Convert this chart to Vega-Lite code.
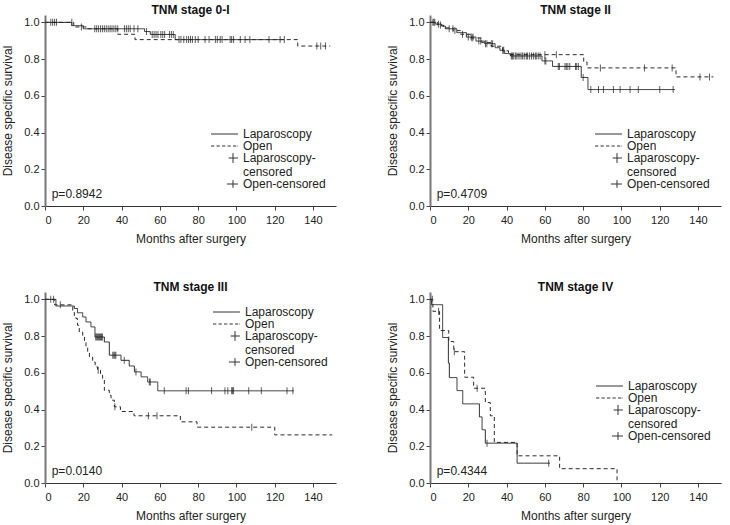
{
  "$schema": "https://vega.github.io/schema/vega-lite/v6.json",
  "background": "white",
  "padding": {"left": 1, "top": 4, "right": 2, "bottom": 2},
  "datasets": {
    "km": [
      {"stage": "0-I", "group": "Laparoscopy", "t": 0, "s": 1},
      {"stage": "0-I", "group": "Laparoscopy", "t": 14, "s": 0.982},
      {"stage": "0-I", "group": "Laparoscopy", "t": 20, "s": 0.965},
      {"stage": "0-I", "group": "Laparoscopy", "t": 52, "s": 0.95},
      {"stage": "0-I", "group": "Laparoscopy", "t": 55, "s": 0.934},
      {"stage": "0-I", "group": "Laparoscopy", "t": 68, "s": 0.906},
      {"stage": "0-I", "group": "Laparoscopy", "t": 125, "s": 0.906},
      {"stage": "0-I", "group": "Open", "t": 0, "s": 1},
      {"stage": "0-I", "group": "Open", "t": 15, "s": 0.975},
      {"stage": "0-I", "group": "Open", "t": 22, "s": 0.965},
      {"stage": "0-I", "group": "Open", "t": 38, "s": 0.935},
      {"stage": "0-I", "group": "Open", "t": 47, "s": 0.906},
      {"stage": "0-I", "group": "Open", "t": 132, "s": 0.871},
      {"stage": "0-I", "group": "Open", "t": 149, "s": 0.871},

      {"stage": "II", "group": "Laparoscopy", "t": 0, "s": 1},
      {"stage": "II", "group": "Laparoscopy", "t": 3, "s": 0.99},
      {"stage": "II", "group": "Laparoscopy", "t": 6, "s": 0.98},
      {"stage": "II", "group": "Laparoscopy", "t": 8, "s": 0.965},
      {"stage": "II", "group": "Laparoscopy", "t": 14, "s": 0.944},
      {"stage": "II", "group": "Laparoscopy", "t": 19, "s": 0.92},
      {"stage": "II", "group": "Laparoscopy", "t": 24, "s": 0.898},
      {"stage": "II", "group": "Laparoscopy", "t": 28.5, "s": 0.884},
      {"stage": "II", "group": "Laparoscopy", "t": 34, "s": 0.862},
      {"stage": "II", "group": "Laparoscopy", "t": 36.5, "s": 0.848},
      {"stage": "II", "group": "Laparoscopy", "t": 39, "s": 0.83},
      {"stage": "II", "group": "Laparoscopy", "t": 42, "s": 0.817},
      {"stage": "II", "group": "Laparoscopy", "t": 58.5, "s": 0.79},
      {"stage": "II", "group": "Laparoscopy", "t": 64, "s": 0.76},
      {"stage": "II", "group": "Laparoscopy", "t": 79, "s": 0.7},
      {"stage": "II", "group": "Laparoscopy", "t": 82.5, "s": 0.634},
      {"stage": "II", "group": "Laparoscopy", "t": 128, "s": 0.634},
      {"stage": "II", "group": "Open", "t": 0, "s": 1},
      {"stage": "II", "group": "Open", "t": 4, "s": 0.985},
      {"stage": "II", "group": "Open", "t": 7, "s": 0.97},
      {"stage": "II", "group": "Open", "t": 12, "s": 0.955},
      {"stage": "II", "group": "Open", "t": 16, "s": 0.935},
      {"stage": "II", "group": "Open", "t": 21, "s": 0.915},
      {"stage": "II", "group": "Open", "t": 27, "s": 0.89},
      {"stage": "II", "group": "Open", "t": 32, "s": 0.87},
      {"stage": "II", "group": "Open", "t": 38, "s": 0.845},
      {"stage": "II", "group": "Open", "t": 41, "s": 0.824},
      {"stage": "II", "group": "Open", "t": 80.3, "s": 0.784},
      {"stage": "II", "group": "Open", "t": 82, "s": 0.752},
      {"stage": "II", "group": "Open", "t": 128.5, "s": 0.703},
      {"stage": "II", "group": "Open", "t": 148, "s": 0.703},

      {"stage": "III", "group": "Laparoscopy", "t": 0, "s": 1},
      {"stage": "III", "group": "Laparoscopy", "t": 5.7, "s": 0.964},
      {"stage": "III", "group": "Laparoscopy", "t": 15.3, "s": 0.95},
      {"stage": "III", "group": "Laparoscopy", "t": 17, "s": 0.927},
      {"stage": "III", "group": "Laparoscopy", "t": 19.7, "s": 0.904},
      {"stage": "III", "group": "Laparoscopy", "t": 21.4, "s": 0.877},
      {"stage": "III", "group": "Laparoscopy", "t": 24, "s": 0.85},
      {"stage": "III", "group": "Laparoscopy", "t": 26.1, "s": 0.795},
      {"stage": "III", "group": "Laparoscopy", "t": 31, "s": 0.768},
      {"stage": "III", "group": "Laparoscopy", "t": 33.6, "s": 0.696},
      {"stage": "III", "group": "Laparoscopy", "t": 39.7, "s": 0.668},
      {"stage": "III", "group": "Laparoscopy", "t": 44, "s": 0.637},
      {"stage": "III", "group": "Laparoscopy", "t": 46.7, "s": 0.605},
      {"stage": "III", "group": "Laparoscopy", "t": 50.2, "s": 0.578},
      {"stage": "III", "group": "Laparoscopy", "t": 53.6, "s": 0.55},
      {"stage": "III", "group": "Laparoscopy", "t": 58.9, "s": 0.502},
      {"stage": "III", "group": "Laparoscopy", "t": 130, "s": 0.502},
      {"stage": "III", "group": "Open", "t": 0, "s": 1},
      {"stage": "III", "group": "Open", "t": 5, "s": 0.97},
      {"stage": "III", "group": "Open", "t": 14.5, "s": 0.94},
      {"stage": "III", "group": "Open", "t": 15.3, "s": 0.913},
      {"stage": "III", "group": "Open", "t": 16.2, "s": 0.895},
      {"stage": "III", "group": "Open", "t": 17, "s": 0.859},
      {"stage": "III", "group": "Open", "t": 17.9, "s": 0.822},
      {"stage": "III", "group": "Open", "t": 19.7, "s": 0.795},
      {"stage": "III", "group": "Open", "t": 20.6, "s": 0.768},
      {"stage": "III", "group": "Open", "t": 21.4, "s": 0.741},
      {"stage": "III", "group": "Open", "t": 22.3, "s": 0.714},
      {"stage": "III", "group": "Open", "t": 23.2, "s": 0.686},
      {"stage": "III", "group": "Open", "t": 24.9, "s": 0.659},
      {"stage": "III", "group": "Open", "t": 26.2, "s": 0.632},
      {"stage": "III", "group": "Open", "t": 27.5, "s": 0.614},
      {"stage": "III", "group": "Open", "t": 29, "s": 0.587},
      {"stage": "III", "group": "Open", "t": 30.1, "s": 0.569},
      {"stage": "III", "group": "Open", "t": 31, "s": 0.505},
      {"stage": "III", "group": "Open", "t": 33.6, "s": 0.478},
      {"stage": "III", "group": "Open", "t": 34.5, "s": 0.451},
      {"stage": "III", "group": "Open", "t": 36.2, "s": 0.415},
      {"stage": "III", "group": "Open", "t": 39.4, "s": 0.389},
      {"stage": "III", "group": "Open", "t": 46.5, "s": 0.366},
      {"stage": "III", "group": "Open", "t": 70.7, "s": 0.333},
      {"stage": "III", "group": "Open", "t": 79.4, "s": 0.304},
      {"stage": "III", "group": "Open", "t": 120, "s": 0.262},
      {"stage": "III", "group": "Open", "t": 150, "s": 0.262},

      {"stage": "IV", "group": "Laparoscopy", "t": 0, "s": 1},
      {"stage": "IV", "group": "Laparoscopy", "t": 0.8, "s": 0.971},
      {"stage": "IV", "group": "Laparoscopy", "t": 6.6, "s": 0.792},
      {"stage": "IV", "group": "Laparoscopy", "t": 9.6, "s": 0.653},
      {"stage": "IV", "group": "Laparoscopy", "t": 10.1, "s": 0.574},
      {"stage": "IV", "group": "Laparoscopy", "t": 14.1, "s": 0.503},
      {"stage": "IV", "group": "Laparoscopy", "t": 17.1, "s": 0.431},
      {"stage": "IV", "group": "Laparoscopy", "t": 25.8, "s": 0.36},
      {"stage": "IV", "group": "Laparoscopy", "t": 27.2, "s": 0.29},
      {"stage": "IV", "group": "Laparoscopy", "t": 28.9, "s": 0.217},
      {"stage": "IV", "group": "Laparoscopy", "t": 45.5, "s": 0.108},
      {"stage": "IV", "group": "Laparoscopy", "t": 62.7, "s": 0.108},
      {"stage": "IV", "group": "Open", "t": 0, "s": 1},
      {"stage": "IV", "group": "Open", "t": 1.5, "s": 0.935},
      {"stage": "IV", "group": "Open", "t": 5, "s": 0.83},
      {"stage": "IV", "group": "Open", "t": 9.8, "s": 0.77},
      {"stage": "IV", "group": "Open", "t": 12.4, "s": 0.715},
      {"stage": "IV", "group": "Open", "t": 18.1, "s": 0.576},
      {"stage": "IV", "group": "Open", "t": 22.8, "s": 0.516},
      {"stage": "IV", "group": "Open", "t": 28.9, "s": 0.438},
      {"stage": "IV", "group": "Open", "t": 31.5, "s": 0.366},
      {"stage": "IV", "group": "Open", "t": 33.6, "s": 0.221},
      {"stage": "IV", "group": "Open", "t": 45.5, "s": 0.148},
      {"stage": "IV", "group": "Open", "t": 67.7, "s": 0.078},
      {"stage": "IV", "group": "Open", "t": 97.7, "s": 0}
    ],
    "cens": [
      {"stage": "0-I", "group": "Laparoscopy", "t": 3, "s": 1},
      {"stage": "0-I", "group": "Laparoscopy", "t": 4, "s": 1},
      {"stage": "0-I", "group": "Laparoscopy", "t": 5, "s": 1},
      {"stage": "0-I", "group": "Laparoscopy", "t": 6, "s": 1},
      {"stage": "0-I", "group": "Laparoscopy", "t": 26, "s": 0.965},
      {"stage": "0-I", "group": "Laparoscopy", "t": 27, "s": 0.965},
      {"stage": "0-I", "group": "Laparoscopy", "t": 28, "s": 0.965},
      {"stage": "0-I", "group": "Laparoscopy", "t": 29, "s": 0.965},
      {"stage": "0-I", "group": "Laparoscopy", "t": 30, "s": 0.965},
      {"stage": "0-I", "group": "Laparoscopy", "t": 31, "s": 0.965},
      {"stage": "0-I", "group": "Laparoscopy", "t": 32, "s": 0.965},
      {"stage": "0-I", "group": "Laparoscopy", "t": 33, "s": 0.965},
      {"stage": "0-I", "group": "Laparoscopy", "t": 34, "s": 0.965},
      {"stage": "0-I", "group": "Laparoscopy", "t": 35, "s": 0.965},
      {"stage": "0-I", "group": "Laparoscopy", "t": 36, "s": 0.965},
      {"stage": "0-I", "group": "Laparoscopy", "t": 37, "s": 0.965},
      {"stage": "0-I", "group": "Laparoscopy", "t": 38, "s": 0.965},
      {"stage": "0-I", "group": "Laparoscopy", "t": 41.5, "s": 0.965},
      {"stage": "0-I", "group": "Laparoscopy", "t": 42.5, "s": 0.965},
      {"stage": "0-I", "group": "Laparoscopy", "t": 43.5, "s": 0.965},
      {"stage": "0-I", "group": "Laparoscopy", "t": 44.5, "s": 0.965},
      {"stage": "0-I", "group": "Laparoscopy", "t": 46.5, "s": 0.965},
      {"stage": "0-I", "group": "Laparoscopy", "t": 48.5, "s": 0.965},
      {"stage": "0-I", "group": "Laparoscopy", "t": 53, "s": 0.95},
      {"stage": "0-I", "group": "Laparoscopy", "t": 56, "s": 0.934},
      {"stage": "0-I", "group": "Laparoscopy", "t": 57, "s": 0.934},
      {"stage": "0-I", "group": "Laparoscopy", "t": 58, "s": 0.934},
      {"stage": "0-I", "group": "Laparoscopy", "t": 59, "s": 0.934},
      {"stage": "0-I", "group": "Laparoscopy", "t": 60.5, "s": 0.934},
      {"stage": "0-I", "group": "Laparoscopy", "t": 61.5, "s": 0.934},
      {"stage": "0-I", "group": "Laparoscopy", "t": 62.5, "s": 0.934},
      {"stage": "0-I", "group": "Laparoscopy", "t": 65, "s": 0.934},
      {"stage": "0-I", "group": "Laparoscopy", "t": 66, "s": 0.934},
      {"stage": "0-I", "group": "Laparoscopy", "t": 67, "s": 0.934},
      {"stage": "0-I", "group": "Laparoscopy", "t": 70, "s": 0.906},
      {"stage": "0-I", "group": "Laparoscopy", "t": 71, "s": 0.906},
      {"stage": "0-I", "group": "Laparoscopy", "t": 72.5, "s": 0.906},
      {"stage": "0-I", "group": "Laparoscopy", "t": 74, "s": 0.906},
      {"stage": "0-I", "group": "Laparoscopy", "t": 75, "s": 0.906},
      {"stage": "0-I", "group": "Laparoscopy", "t": 76, "s": 0.906},
      {"stage": "0-I", "group": "Laparoscopy", "t": 77, "s": 0.906},
      {"stage": "0-I", "group": "Laparoscopy", "t": 78.5, "s": 0.906},
      {"stage": "0-I", "group": "Laparoscopy", "t": 80, "s": 0.906},
      {"stage": "0-I", "group": "Laparoscopy", "t": 83.6, "s": 0.906},
      {"stage": "0-I", "group": "Laparoscopy", "t": 85.7, "s": 0.906},
      {"stage": "0-I", "group": "Laparoscopy", "t": 89, "s": 0.906},
      {"stage": "0-I", "group": "Laparoscopy", "t": 90, "s": 0.906},
      {"stage": "0-I", "group": "Laparoscopy", "t": 91.5, "s": 0.906},
      {"stage": "0-I", "group": "Laparoscopy", "t": 92.5, "s": 0.906},
      {"stage": "0-I", "group": "Laparoscopy", "t": 96.7, "s": 0.906},
      {"stage": "0-I", "group": "Laparoscopy", "t": 97.5, "s": 0.906},
      {"stage": "0-I", "group": "Laparoscopy", "t": 98.5, "s": 0.906},
      {"stage": "0-I", "group": "Laparoscopy", "t": 102, "s": 0.906},
      {"stage": "0-I", "group": "Laparoscopy", "t": 104.5, "s": 0.906},
      {"stage": "0-I", "group": "Laparoscopy", "t": 107, "s": 0.906},
      {"stage": "0-I", "group": "Laparoscopy", "t": 117, "s": 0.906},
      {"stage": "0-I", "group": "Laparoscopy", "t": 122.8, "s": 0.906},
      {"stage": "0-I", "group": "Laparoscopy", "t": 125, "s": 0.906},
      {"stage": "0-I", "group": "Open", "t": 14, "s": 1},
      {"stage": "0-I", "group": "Open", "t": 19, "s": 0.975},
      {"stage": "0-I", "group": "Open", "t": 142, "s": 0.871},
      {"stage": "0-I", "group": "Open", "t": 144, "s": 0.871},
      {"stage": "0-I", "group": "Open", "t": 146.5, "s": 0.871},

      {"stage": "II", "group": "Laparoscopy", "t": 1.5, "s": 1},
      {"stage": "II", "group": "Laparoscopy", "t": 2.5, "s": 1},
      {"stage": "II", "group": "Laparoscopy", "t": 4.5, "s": 0.99},
      {"stage": "II", "group": "Laparoscopy", "t": 10, "s": 0.965},
      {"stage": "II", "group": "Laparoscopy", "t": 12, "s": 0.965},
      {"stage": "II", "group": "Laparoscopy", "t": 20, "s": 0.92},
      {"stage": "II", "group": "Laparoscopy", "t": 21.5, "s": 0.92},
      {"stage": "II", "group": "Laparoscopy", "t": 22.5, "s": 0.92},
      {"stage": "II", "group": "Laparoscopy", "t": 25.5, "s": 0.898},
      {"stage": "II", "group": "Laparoscopy", "t": 26.5, "s": 0.898},
      {"stage": "II", "group": "Laparoscopy", "t": 29, "s": 0.884},
      {"stage": "II", "group": "Laparoscopy", "t": 29.7, "s": 0.884},
      {"stage": "II", "group": "Laparoscopy", "t": 32, "s": 0.884},
      {"stage": "II", "group": "Laparoscopy", "t": 32.7, "s": 0.884},
      {"stage": "II", "group": "Laparoscopy", "t": 38, "s": 0.848},
      {"stage": "II", "group": "Laparoscopy", "t": 38.5, "s": 0.848},
      {"stage": "II", "group": "Laparoscopy", "t": 42.5, "s": 0.817},
      {"stage": "II", "group": "Laparoscopy", "t": 43, "s": 0.817},
      {"stage": "II", "group": "Laparoscopy", "t": 43.5, "s": 0.817},
      {"stage": "II", "group": "Laparoscopy", "t": 44.5, "s": 0.817},
      {"stage": "II", "group": "Laparoscopy", "t": 45, "s": 0.817},
      {"stage": "II", "group": "Laparoscopy", "t": 46, "s": 0.817},
      {"stage": "II", "group": "Laparoscopy", "t": 47, "s": 0.817},
      {"stage": "II", "group": "Laparoscopy", "t": 48, "s": 0.817},
      {"stage": "II", "group": "Laparoscopy", "t": 48.5, "s": 0.817},
      {"stage": "II", "group": "Laparoscopy", "t": 49.5, "s": 0.817},
      {"stage": "II", "group": "Laparoscopy", "t": 50.5, "s": 0.817},
      {"stage": "II", "group": "Laparoscopy", "t": 51, "s": 0.817},
      {"stage": "II", "group": "Laparoscopy", "t": 52, "s": 0.817},
      {"stage": "II", "group": "Laparoscopy", "t": 53, "s": 0.817},
      {"stage": "II", "group": "Laparoscopy", "t": 54, "s": 0.817},
      {"stage": "II", "group": "Laparoscopy", "t": 55, "s": 0.817},
      {"stage": "II", "group": "Laparoscopy", "t": 55.5, "s": 0.817},
      {"stage": "II", "group": "Laparoscopy", "t": 56.5, "s": 0.817},
      {"stage": "II", "group": "Laparoscopy", "t": 57.5, "s": 0.817},
      {"stage": "II", "group": "Laparoscopy", "t": 60, "s": 0.79},
      {"stage": "II", "group": "Laparoscopy", "t": 60.5, "s": 0.79},
      {"stage": "II", "group": "Laparoscopy", "t": 67, "s": 0.76},
      {"stage": "II", "group": "Laparoscopy", "t": 67.6, "s": 0.76},
      {"stage": "II", "group": "Laparoscopy", "t": 70.5, "s": 0.76},
      {"stage": "II", "group": "Laparoscopy", "t": 71.2, "s": 0.76},
      {"stage": "II", "group": "Laparoscopy", "t": 72, "s": 0.76},
      {"stage": "II", "group": "Laparoscopy", "t": 73, "s": 0.76},
      {"stage": "II", "group": "Laparoscopy", "t": 76, "s": 0.76},
      {"stage": "II", "group": "Laparoscopy", "t": 76.6, "s": 0.76},
      {"stage": "II", "group": "Laparoscopy", "t": 77.5, "s": 0.76},
      {"stage": "II", "group": "Laparoscopy", "t": 80, "s": 0.7},
      {"stage": "II", "group": "Laparoscopy", "t": 84, "s": 0.634},
      {"stage": "II", "group": "Laparoscopy", "t": 88, "s": 0.634},
      {"stage": "II", "group": "Laparoscopy", "t": 90.6, "s": 0.634},
      {"stage": "II", "group": "Laparoscopy", "t": 95.8, "s": 0.634},
      {"stage": "II", "group": "Laparoscopy", "t": 99.3, "s": 0.634},
      {"stage": "II", "group": "Laparoscopy", "t": 104.5, "s": 0.634},
      {"stage": "II", "group": "Laparoscopy", "t": 108.8, "s": 0.634},
      {"stage": "II", "group": "Laparoscopy", "t": 120, "s": 0.634},
      {"stage": "II", "group": "Laparoscopy", "t": 127, "s": 0.634},
      {"stage": "II", "group": "Open", "t": 2, "s": 1},
      {"stage": "II", "group": "Open", "t": 5.5, "s": 0.985},
      {"stage": "II", "group": "Open", "t": 13, "s": 0.955},
      {"stage": "II", "group": "Open", "t": 17, "s": 0.935},
      {"stage": "II", "group": "Open", "t": 22, "s": 0.915},
      {"stage": "II", "group": "Open", "t": 60, "s": 0.824},
      {"stage": "II", "group": "Open", "t": 66, "s": 0.824},
      {"stage": "II", "group": "Open", "t": 89, "s": 0.752},
      {"stage": "II", "group": "Open", "t": 112, "s": 0.752},
      {"stage": "II", "group": "Open", "t": 126.5, "s": 0.752},
      {"stage": "II", "group": "Open", "t": 141, "s": 0.703},
      {"stage": "II", "group": "Open", "t": 146, "s": 0.703},

      {"stage": "III", "group": "Laparoscopy", "t": 3, "s": 1},
      {"stage": "III", "group": "Laparoscopy", "t": 4.5, "s": 1},
      {"stage": "III", "group": "Laparoscopy", "t": 26.5, "s": 0.795},
      {"stage": "III", "group": "Laparoscopy", "t": 27, "s": 0.795},
      {"stage": "III", "group": "Laparoscopy", "t": 27.5, "s": 0.795},
      {"stage": "III", "group": "Laparoscopy", "t": 28, "s": 0.795},
      {"stage": "III", "group": "Laparoscopy", "t": 28.5, "s": 0.795},
      {"stage": "III", "group": "Laparoscopy", "t": 29, "s": 0.795},
      {"stage": "III", "group": "Laparoscopy", "t": 29.5, "s": 0.795},
      {"stage": "III", "group": "Laparoscopy", "t": 30, "s": 0.795},
      {"stage": "III", "group": "Laparoscopy", "t": 35.4, "s": 0.696},
      {"stage": "III", "group": "Laparoscopy", "t": 36, "s": 0.696},
      {"stage": "III", "group": "Laparoscopy", "t": 36.5, "s": 0.696},
      {"stage": "III", "group": "Laparoscopy", "t": 37, "s": 0.696},
      {"stage": "III", "group": "Laparoscopy", "t": 41.4, "s": 0.668},
      {"stage": "III", "group": "Laparoscopy", "t": 47.5, "s": 0.605},
      {"stage": "III", "group": "Laparoscopy", "t": 54.5, "s": 0.55},
      {"stage": "III", "group": "Laparoscopy", "t": 55, "s": 0.55},
      {"stage": "III", "group": "Laparoscopy", "t": 62.3, "s": 0.502},
      {"stage": "III", "group": "Laparoscopy", "t": 73.7, "s": 0.502},
      {"stage": "III", "group": "Laparoscopy", "t": 74.9, "s": 0.502},
      {"stage": "III", "group": "Laparoscopy", "t": 87, "s": 0.502},
      {"stage": "III", "group": "Laparoscopy", "t": 94, "s": 0.502},
      {"stage": "III", "group": "Laparoscopy", "t": 95.5, "s": 0.502},
      {"stage": "III", "group": "Laparoscopy", "t": 97.5, "s": 0.502},
      {"stage": "III", "group": "Laparoscopy", "t": 98, "s": 0.502},
      {"stage": "III", "group": "Laparoscopy", "t": 98.5, "s": 0.502},
      {"stage": "III", "group": "Laparoscopy", "t": 106.4, "s": 0.502},
      {"stage": "III", "group": "Laparoscopy", "t": 113, "s": 0.502},
      {"stage": "III", "group": "Laparoscopy", "t": 126.4, "s": 0.502},
      {"stage": "III", "group": "Laparoscopy", "t": 129.5, "s": 0.502},
      {"stage": "III", "group": "Open", "t": 8, "s": 0.97},
      {"stage": "III", "group": "Open", "t": 27.8, "s": 0.614},
      {"stage": "III", "group": "Open", "t": 36.5, "s": 0.415},
      {"stage": "III", "group": "Open", "t": 54, "s": 0.366},
      {"stage": "III", "group": "Open", "t": 58.5, "s": 0.366},
      {"stage": "III", "group": "Open", "t": 108, "s": 0.304},

      {"stage": "IV", "group": "Laparoscopy", "t": 29.8, "s": 0.217},
      {"stage": "IV", "group": "Laparoscopy", "t": 62, "s": 0.108},
      {"stage": "IV", "group": "Open", "t": 1.2, "s": 1},
      {"stage": "IV", "group": "Open", "t": 4.5, "s": 0.935},
      {"stage": "IV", "group": "Open", "t": 12.7, "s": 0.715},
      {"stage": "IV", "group": "Open", "t": 24.6, "s": 0.516}
    ]
  },
  "columns": 2,
  "spacing": {"row": 37, "column": 50},
  "resolve": {"scale": {"shape": "independent"}, "legend": {"shape": "independent"}},
  "concat": [
    {
      "width": 291, "height": 191,
      "title": "TNM stage 0-I",
      "layer": [
        {
          "data": {"name": "km"},
          "transform": [{"filter": "datum.stage == '0-I'"}],
          "mark": {"type": "line", "interpolate": "step-after", "color": "#2a2a2a", "strokeWidth": 1},
          "encoding": {
            "x": {"field": "t", "type": "quantitative", "scale": {"domain": [0, 152], "nice": false}, "axis": {"values": [0, 20, 40, 60, 80, 100, 120, 140], "title": "Months after surgery", "labelOverlap": false}},
            "y": {"field": "s", "type": "quantitative", "scale": {"domain": [0, 1.04], "nice": false}, "axis": {"values": [0, 0.2, 0.4, 0.6, 0.8, 1], "format": ".1f", "title": "Disease specific survival", "labelOverlap": false}},
            "strokeDash": {"field": "group", "type": "nominal", "scale": {"domain": ["Laparoscopy", "Open"], "range": [[1, 0], [4, 3]]}, "legend": null}
          }
        },
        {
          "data": {"name": "cens"},
          "transform": [{"filter": "datum.stage == '0-I'"}],
          "mark": {"type": "tick", "orient": "vertical", "color": "#1a1a1a", "size": 7, "thickness": 1},
          "encoding": {
            "x": {"field": "t", "type": "quantitative", "scale": {"domain": [0, 152], "nice": false}, "axis": {"values": [0, 20, 40, 60, 80, 100, 120, 140], "title": "Months after surgery", "labelOverlap": false}},
            "y": {"field": "s", "type": "quantitative", "scale": {"domain": [0, 1.04], "nice": false}, "axis": {"values": [0, 0.2, 0.4, 0.6, 0.8, 1], "format": ".1f", "title": "Disease specific survival", "labelOverlap": false}}
          }
        },
        {
          "data": {"name": "km"},
          "transform": [{"filter": "datum.stage == '0-I'"}],
          "mark": {"type": "point", "filled": false, "color": "#333", "opacity": 0},
          "encoding": {
            "x": {"field": "t", "type": "quantitative", "scale": {"domain": [0, 152], "nice": false}, "axis": {"values": [0, 20, 40, 60, 80, 100, 120, 140], "title": "Months after surgery", "labelOverlap": false}},
            "y": {"field": "s", "type": "quantitative", "scale": {"domain": [0, 1.04], "nice": false}, "axis": {"values": [0, 0.2, 0.4, 0.6, 0.8, 1], "format": ".1f", "title": "Disease specific survival", "labelOverlap": false}},
            "shape": {"field": "group", "type": "nominal",
              "scale": {"domain": ["Laparoscopy", "Open", "Laparoscopy-censored", "Open-censored"],
                        "range": ["M-4,0L0.9,0", "M-4,0L-3.4,0M-3,0L-2.4,0M-2,0L-1.4,0M-1,0L-0.4,0M0,0L0.6,0M0.8,0L0.9,0", "M-0.8,0L0.9,0M0,-0.9L0,0.9", "M-1.1,0L0.9,0M0,-0.7L0,0.7"]},
              "legend": {"title": null, "orient": "none", "legendX": 182, "legendY": 113,
                         "labelExpr": "datum.label == 'Laparoscopy-censored' ? ['Laparoscopy-', 'censored'] : datum.label"}}
          }
        },
        {
          "data": {"values": [{"p": "p=0.8942"}]},
          "mark": {"type": "text", "align": "left", "baseline": "middle", "fontSize": 12, "color": "#222"},
          "encoding": {
            "x": {"datum": 3.5, "type": "quantitative", "scale": {"domain": [0, 152], "nice": false}, "axis": {"values": [0, 20, 40, 60, 80, 100, 120, 140], "title": "Months after surgery", "labelOverlap": false}},
            "y": {"datum": 0.066, "type": "quantitative", "scale": {"domain": [0, 1.04], "nice": false}, "axis": {"values": [0, 0.2, 0.4, 0.6, 0.8, 1], "format": ".1f", "title": "Disease specific survival", "labelOverlap": false}},
            "text": {"field": "p"}
          }
        }
      ]
    },
    {
      "width": 291, "height": 191,
      "title": "TNM stage II",
      "layer": [
        {
          "data": {"name": "km"},
          "transform": [{"filter": "datum.stage == 'II'"}],
          "mark": {"type": "line", "interpolate": "step-after", "color": "#2a2a2a", "strokeWidth": 1},
          "encoding": {
            "x": {"field": "t", "type": "quantitative", "scale": {"domain": [0, 152], "nice": false}, "axis": {"values": [0, 20, 40, 60, 80, 100, 120, 140], "title": "Months after surgery", "labelOverlap": false}},
            "y": {"field": "s", "type": "quantitative", "scale": {"domain": [0, 1.04], "nice": false}, "axis": {"values": [0, 0.2, 0.4, 0.6, 0.8, 1], "format": ".1f", "title": "Disease specific survival", "labelOverlap": false}},
            "strokeDash": {"field": "group", "type": "nominal", "scale": {"domain": ["Laparoscopy", "Open"], "range": [[1, 0], [4, 3]]}, "legend": null}
          }
        },
        {
          "data": {"name": "cens"},
          "transform": [{"filter": "datum.stage == 'II'"}],
          "mark": {"type": "tick", "orient": "vertical", "color": "#1a1a1a", "size": 7, "thickness": 1},
          "encoding": {
            "x": {"field": "t", "type": "quantitative", "scale": {"domain": [0, 152], "nice": false}, "axis": {"values": [0, 20, 40, 60, 80, 100, 120, 140], "title": "Months after surgery", "labelOverlap": false}},
            "y": {"field": "s", "type": "quantitative", "scale": {"domain": [0, 1.04], "nice": false}, "axis": {"values": [0, 0.2, 0.4, 0.6, 0.8, 1], "format": ".1f", "title": "Disease specific survival", "labelOverlap": false}}
          }
        },
        {
          "data": {"name": "km"},
          "transform": [{"filter": "datum.stage == 'II'"}],
          "mark": {"type": "point", "filled": false, "color": "#333", "opacity": 0},
          "encoding": {
            "x": {"field": "t", "type": "quantitative", "scale": {"domain": [0, 152], "nice": false}, "axis": {"values": [0, 20, 40, 60, 80, 100, 120, 140], "title": "Months after surgery", "labelOverlap": false}},
            "y": {"field": "s", "type": "quantitative", "scale": {"domain": [0, 1.04], "nice": false}, "axis": {"values": [0, 0.2, 0.4, 0.6, 0.8, 1], "format": ".1f", "title": "Disease specific survival", "labelOverlap": false}},
            "shape": {"field": "group", "type": "nominal",
              "scale": {"domain": ["Laparoscopy", "Open", "Laparoscopy-censored", "Open-censored"],
                        "range": ["M-4,0L0.9,0", "M-4,0L-3.4,0M-3,0L-2.4,0M-2,0L-1.4,0M-1,0L-0.4,0M0,0L0.6,0M0.8,0L0.9,0", "M-0.8,0L0.9,0M0,-0.9L0,0.9", "M-1.1,0L0.9,0M0,-0.7L0,0.7"]},
              "legend": {"title": null, "orient": "none", "legendX": 181, "legendY": 113,
                         "labelExpr": "datum.label == 'Laparoscopy-censored' ? ['Laparoscopy-', 'censored'] : datum.label"}}
          }
        },
        {
          "data": {"values": [{"p": "p=0.4709"}]},
          "mark": {"type": "text", "align": "left", "baseline": "middle", "fontSize": 12, "color": "#222"},
          "encoding": {
            "x": {"datum": 3.5, "type": "quantitative", "scale": {"domain": [0, 152], "nice": false}, "axis": {"values": [0, 20, 40, 60, 80, 100, 120, 140], "title": "Months after surgery", "labelOverlap": false}},
            "y": {"datum": 0.066, "type": "quantitative", "scale": {"domain": [0, 1.04], "nice": false}, "axis": {"values": [0, 0.2, 0.4, 0.6, 0.8, 1], "format": ".1f", "title": "Disease specific survival", "labelOverlap": false}},
            "text": {"field": "p"}
          }
        }
      ]
    },
    {
      "width": 291, "height": 191,
      "title": "TNM stage III",
      "layer": [
        {
          "data": {"name": "km"},
          "transform": [{"filter": "datum.stage == 'III'"}],
          "mark": {"type": "line", "interpolate": "step-after", "color": "#2a2a2a", "strokeWidth": 1},
          "encoding": {
            "x": {"field": "t", "type": "quantitative", "scale": {"domain": [0, 152], "nice": false}, "axis": {"values": [0, 20, 40, 60, 80, 100, 120, 140], "title": "Months after surgery", "labelOverlap": false}},
            "y": {"field": "s", "type": "quantitative", "scale": {"domain": [0, 1.04], "nice": false}, "axis": {"values": [0, 0.2, 0.4, 0.6, 0.8, 1], "format": ".1f", "title": "Disease specific survival", "labelOverlap": false}},
            "strokeDash": {"field": "group", "type": "nominal", "scale": {"domain": ["Laparoscopy", "Open"], "range": [[1, 0], [4, 3]]}, "legend": null}
          }
        },
        {
          "data": {"name": "cens"},
          "transform": [{"filter": "datum.stage == 'III'"}],
          "mark": {"type": "tick", "orient": "vertical", "color": "#1a1a1a", "size": 7, "thickness": 1},
          "encoding": {
            "x": {"field": "t", "type": "quantitative", "scale": {"domain": [0, 152], "nice": false}, "axis": {"values": [0, 20, 40, 60, 80, 100, 120, 140], "title": "Months after surgery", "labelOverlap": false}},
            "y": {"field": "s", "type": "quantitative", "scale": {"domain": [0, 1.04], "nice": false}, "axis": {"values": [0, 0.2, 0.4, 0.6, 0.8, 1], "format": ".1f", "title": "Disease specific survival", "labelOverlap": false}}
          }
        },
        {
          "data": {"name": "km"},
          "transform": [{"filter": "datum.stage == 'III'"}],
          "mark": {"type": "point", "filled": false, "color": "#333", "opacity": 0},
          "encoding": {
            "x": {"field": "t", "type": "quantitative", "scale": {"domain": [0, 152], "nice": false}, "axis": {"values": [0, 20, 40, 60, 80, 100, 120, 140], "title": "Months after surgery", "labelOverlap": false}},
            "y": {"field": "s", "type": "quantitative", "scale": {"domain": [0, 1.04], "nice": false}, "axis": {"values": [0, 0.2, 0.4, 0.6, 0.8, 1], "format": ".1f", "title": "Disease specific survival", "labelOverlap": false}},
            "shape": {"field": "group", "type": "nominal",
              "scale": {"domain": ["Laparoscopy", "Open", "Laparoscopy-censored", "Open-censored"],
                        "range": ["M-4,0L0.9,0", "M-4,0L-3.4,0M-3,0L-2.4,0M-2,0L-1.4,0M-1,0L-0.4,0M0,0L0.6,0M0.8,0L0.9,0", "M-0.8,0L0.9,0M0,-0.9L0,0.9", "M-1.1,0L0.9,0M0,-0.7L0,0.7"]},
              "legend": {"title": null, "orient": "none", "legendX": 184, "legendY": 14,
                         "labelExpr": "datum.label == 'Laparoscopy-censored' ? ['Laparoscopy-', 'censored'] : datum.label"}}
          }
        },
        {
          "data": {"values": [{"p": "p=0.0140"}]},
          "mark": {"type": "text", "align": "left", "baseline": "middle", "fontSize": 12, "color": "#222"},
          "encoding": {
            "x": {"datum": 3.5, "type": "quantitative", "scale": {"domain": [0, 152], "nice": false}, "axis": {"values": [0, 20, 40, 60, 80, 100, 120, 140], "title": "Months after surgery", "labelOverlap": false}},
            "y": {"datum": 0.066, "type": "quantitative", "scale": {"domain": [0, 1.04], "nice": false}, "axis": {"values": [0, 0.2, 0.4, 0.6, 0.8, 1], "format": ".1f", "title": "Disease specific survival", "labelOverlap": false}},
            "text": {"field": "p"}
          }
        }
      ]
    },
    {
      "width": 291, "height": 191,
      "title": "TNM stage IV",
      "layer": [
        {
          "data": {"name": "km"},
          "transform": [{"filter": "datum.stage == 'IV'"}],
          "mark": {"type": "line", "interpolate": "step-after", "color": "#2a2a2a", "strokeWidth": 1},
          "encoding": {
            "x": {"field": "t", "type": "quantitative", "scale": {"domain": [0, 152], "nice": false}, "axis": {"values": [0, 20, 40, 60, 80, 100, 120, 140], "title": "Months after surgery", "labelOverlap": false}},
            "y": {"field": "s", "type": "quantitative", "scale": {"domain": [0, 1.04], "nice": false}, "axis": {"values": [0, 0.2, 0.4, 0.6, 0.8, 1], "format": ".1f", "title": "Disease specific survival", "labelOverlap": false}},
            "strokeDash": {"field": "group", "type": "nominal", "scale": {"domain": ["Laparoscopy", "Open"], "range": [[1, 0], [4, 3]]}, "legend": null}
          }
        },
        {
          "data": {"name": "cens"},
          "transform": [{"filter": "datum.stage == 'IV'"}],
          "mark": {"type": "tick", "orient": "vertical", "color": "#1a1a1a", "size": 7, "thickness": 1},
          "encoding": {
            "x": {"field": "t", "type": "quantitative", "scale": {"domain": [0, 152], "nice": false}, "axis": {"values": [0, 20, 40, 60, 80, 100, 120, 140], "title": "Months after surgery", "labelOverlap": false}},
            "y": {"field": "s", "type": "quantitative", "scale": {"domain": [0, 1.04], "nice": false}, "axis": {"values": [0, 0.2, 0.4, 0.6, 0.8, 1], "format": ".1f", "title": "Disease specific survival", "labelOverlap": false}}
          }
        },
        {
          "data": {"name": "km"},
          "transform": [{"filter": "datum.stage == 'IV'"}],
          "mark": {"type": "point", "filled": false, "color": "#333", "opacity": 0},
          "encoding": {
            "x": {"field": "t", "type": "quantitative", "scale": {"domain": [0, 152], "nice": false}, "axis": {"values": [0, 20, 40, 60, 80, 100, 120, 140], "title": "Months after surgery", "labelOverlap": false}},
            "y": {"field": "s", "type": "quantitative", "scale": {"domain": [0, 1.04], "nice": false}, "axis": {"values": [0, 0.2, 0.4, 0.6, 0.8, 1], "format": ".1f", "title": "Disease specific survival", "labelOverlap": false}},
            "shape": {"field": "group", "type": "nominal",
              "scale": {"domain": ["Laparoscopy", "Open", "Laparoscopy-censored", "Open-censored"],
                        "range": ["M-4,0L0.9,0", "M-4,0L-3.4,0M-3,0L-2.4,0M-2,0L-1.4,0M-1,0L-0.4,0M0,0L0.6,0M0.8,0L0.9,0", "M-0.8,0L0.9,0M0,-0.9L0,0.9", "M-1.1,0L0.9,0M0,-0.7L0,0.7"]},
              "legend": {"title": null, "orient": "none", "legendX": 182, "legendY": 88,
                         "labelExpr": "datum.label == 'Laparoscopy-censored' ? ['Laparoscopy-', 'censored'] : datum.label"}}
          }
        },
        {
          "data": {"values": [{"p": "p=0.4344"}]},
          "mark": {"type": "text", "align": "left", "baseline": "middle", "fontSize": 12, "color": "#222"},
          "encoding": {
            "x": {"datum": 3.5, "type": "quantitative", "scale": {"domain": [0, 152], "nice": false}, "axis": {"values": [0, 20, 40, 60, 80, 100, 120, 140], "title": "Months after surgery", "labelOverlap": false}},
            "y": {"datum": 0.066, "type": "quantitative", "scale": {"domain": [0, 1.04], "nice": false}, "axis": {"values": [0, 0.2, 0.4, 0.6, 0.8, 1], "format": ".1f", "title": "Disease specific survival", "labelOverlap": false}},
            "text": {"field": "p"}
          }
        }
      ]
    }
  ],
  "config": {
    "font": "Liberation Sans",
    "view": {"stroke": null},
    "axis": {"grid": false, "labelFontSize": 11, "titleFontSize": 12, "titleFontWeight": "normal", "labelColor": "#222", "titleColor": "#222", "tickColor": "#444", "tickSize": 4},
    "axisX": {"domainColor": "#333", "domainWidth": 1, "labelPadding": 4, "titlePadding": 8},
    "axisY": {"domainColor": "#777", "domainWidth": 2, "labelPadding": 2, "titlePadding": 9},
    "title": {"fontSize": 12, "fontWeight": "bold", "color": "#111", "offset": -2, "anchor": "middle"},
    "legend": {"labelFontSize": 12, "labelColor": "#222", "symbolSize": 121, "symbolStrokeColor": "#333", "symbolStrokeWidth": 1, "symbolOpacity": 1, "padding": 0, "rowPadding": -2, "labelOffset": 4}
  }
}
